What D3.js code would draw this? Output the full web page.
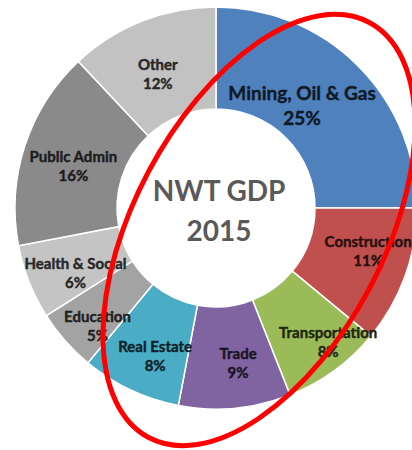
<!DOCTYPE html>
<html>
<head>
<meta charset="utf-8">
<script src="https://cdn.jsdelivr.net/npm/d3@7"></script>
<style>
    html, body { margin: 0; padding: 0; background: #fff; overflow: hidden; }
    svg { display: block; }
</style>
</head>
<body>
<div id="chart"></div>
<script>
// NWT GDP 2015 by sector, share in %
const categories = ["Mining, Oil & Gas", "Construction", "Transportation", "Trade", "Real Estate",
    "Education", "Health & Social", "Public Admin", "Other"];
const shares = [25, 11, 8, 9, 8, 5, 6, 16, 12];
const titleLines = ["NWT GDP", "2015"];

const palette = ["#4f81bd", "#c0504d", "#9bbb59", "#8064a2", "#4bacc6",
    "#a3a3a3", "#c4c4c4", "#8a8a8a", "#c2c2c2"];

// small label nudges, px (Excel moved some labels off the centroid)
const labelNudge = {
    "Mining, Oil & Gas": [-20, 3],
    "Construction": [11, -8],
    "Transportation": [24, 12],
    "Trade": [8, 5],
    "Real Estate": [3, 12],
    "Education": [-6, 18],
    "Health & Social": [-1, 9],
    "Public Admin": [0, 4],
    "Other": [-3, 5]
};

const width = 412, height = 450;
const cx = 216, cy = 208;
const outerR = 201, innerR = 99;

const data = categories.map((c, i) => ({ name: c, value: shares[i] }));

const color = d3.scaleOrdinal().domain(categories).range(palette);

const svg = d3.select("#chart").append("svg")
    .attr("width", width)
    .attr("height", height);

const g = svg.append("g").attr("transform", `translate(${cx},${cy})`);

const pie = d3.pie().sort(null).value(d => d.value);
const arc = d3.arc().innerRadius(innerR).outerRadius(outerR);

const arcs = pie(data);

g.selectAll("path.slice")
    .data(arcs)
    .enter()
    .append("path")
    .attr("class", "slice")
    .attr("d", arc)
    .attr("fill", d => color(d.data.name))
    .attr("stroke", "#fff")
    .attr("stroke-width", 1.5);

const labels = g.selectAll("g.label")
    .data(arcs)
    .enter()
    .append("g")
    .attr("class", "label")
    .attr("transform", d => {
        const c = arc.centroid(d);
        const n = labelNudge[d.data.name] || [0, 0];
        return `translate(${c[0] + n[0]},${c[1] + n[1]})`;
    })
    .style("font-family", "Lato, 'Open Sans', sans-serif")
    .style("font-weight", "bold")
    .style("font-size", d => d.data.value >= 20 ? "19px" : "15px")
    .attr("fill", d => d3.color(color(d.data.name)).darker(4.5))
    .attr("stroke", d => d3.color(color(d.data.name)).darker(4.5))
    .attr("stroke-width", 0.4);

labels.append("text")
    .attr("text-anchor", "middle")
    .attr("dominant-baseline", "central")
    .attr("y", d => d.data.value >= 20 ? -12.5 : -9.5)
    .text(d => d.data.name);

labels.append("text")
    .attr("text-anchor", "middle")
    .attr("dominant-baseline", "central")
    .attr("y", d => d.data.value >= 20 ? 12.5 : 9.5)
    .text(d => d.data.value + "%");

// centre title
g.append("g")
    .selectAll("text")
    .data(titleLines)
    .enter()
    .append("text")
    .attr("x", 3)
    .attr("y", (d, i) => -18 + i * 40)
    .attr("text-anchor", "middle")
    .attr("dominant-baseline", "central")
    .style("font-family", "Lato, 'Open Sans', sans-serif")
    .style("font-weight", "bold")
    .style("font-size", "28px")
    .attr("fill", "#595959")
    .text(d => d);

// red hand-drawn style highlight ring
svg.append("ellipse")
    .attr("cx", 259)
    .attr("cy", 230)
    .attr("rx", 125)
    .attr("ry", 235)
    .attr("transform", "rotate(28,259,230)")
    .attr("fill", "none")
    .attr("stroke", "#ff0000")
    .attr("stroke-width", 5);
</script>
</body>
</html>
